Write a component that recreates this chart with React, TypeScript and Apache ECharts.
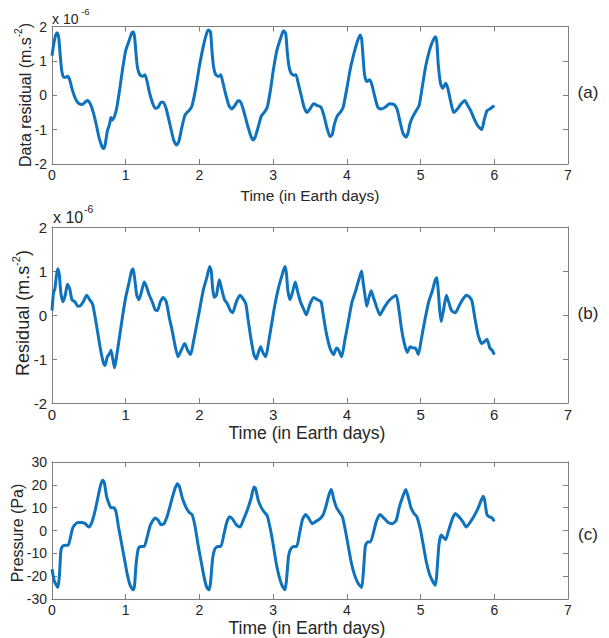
import React, { useEffect, useRef } from "react";
import * as echarts from "echarts";

// ---- Data (time in Earth days) ----
// Panel (a): data residual, units of 1e-6 m.s^-2
const seriesA: [number, number][] = [
  [0, 1.15], [0.02, 1.45], [0.05, 1.75], [0.07, 1.82], [0.09, 1.7], [0.11, 1.2], [0.13, 0.75], [0.15, 0.55],
  [0.18, 0.52], [0.21, 0.55], [0.24, 0.45], [0.27, 0.2], [0.3, 0.0], [0.33, -0.15], [0.37, -0.25], [0.41, -0.27],
  [0.45, -0.2], [0.48, -0.15], [0.52, -0.25], [0.56, -0.5], [0.6, -0.85], [0.64, -1.25], [0.68, -1.5], [0.7, -1.55],
  [0.72, -1.45], [0.75, -1.05], [0.78, -0.85], [0.8, -0.65], [0.82, -0.72], [0.85, -0.6], [0.88, -0.35], [0.92, 0.2],
  [0.96, 0.8], [1.0, 1.3], [1.04, 1.55], [1.08, 1.8], [1.1, 1.85], [1.12, 1.7], [1.14, 1.2], [1.16, 0.8],
  [1.19, 0.6], [1.23, 0.55], [1.26, 0.6], [1.29, 0.4], [1.32, 0.1], [1.36, -0.2], [1.4, -0.38], [1.44, -0.35],
  [1.48, -0.2], [1.51, -0.2], [1.55, -0.4], [1.6, -0.85], [1.65, -1.3], [1.69, -1.45], [1.72, -1.35], [1.76, -0.95],
  [1.8, -0.6], [1.83, -0.5], [1.86, -0.45], [1.9, -0.3], [1.95, 0.2], [2.0, 0.85], [2.05, 1.4], [2.09, 1.75],
  [2.12, 1.9], [2.15, 1.85], [2.17, 1.3], [2.19, 0.85], [2.22, 0.6], [2.26, 0.55], [2.29, 0.6], [2.32, 0.35],
  [2.36, 0.0], [2.4, -0.3], [2.44, -0.4], [2.48, -0.3], [2.53, -0.15], [2.56, -0.2], [2.6, -0.45], [2.65, -0.85],
  [2.7, -1.2], [2.73, -1.3], [2.76, -1.2], [2.8, -0.9], [2.84, -0.6], [2.88, -0.5], [2.92, -0.35], [2.96, 0.1],
  [3.0, 0.7], [3.05, 1.3], [3.1, 1.65], [3.14, 1.88], [3.17, 1.8], [3.19, 1.3], [3.21, 0.9], [3.24, 0.65],
  [3.28, 0.58], [3.31, 0.6], [3.34, 0.35], [3.38, 0.0], [3.42, -0.35], [3.46, -0.5], [3.5, -0.4], [3.55, -0.25],
  [3.6, -0.3], [3.65, -0.35], [3.69, -0.6], [3.73, -0.95], [3.77, -1.2], [3.8, -1.15], [3.83, -0.85], [3.87, -0.6],
  [3.91, -0.5], [3.95, -0.35], [4.0, 0.2], [4.05, 0.8], [4.1, 1.25], [4.14, 1.55], [4.18, 1.75], [4.2, 1.65],
  [4.22, 1.1], [4.24, 0.6], [4.27, 0.4], [4.31, 0.45], [4.34, 0.3], [4.38, -0.05], [4.42, -0.35], [4.46, -0.4],
  [4.52, -0.35], [4.58, -0.25], [4.64, -0.27], [4.68, -0.4], [4.72, -0.75], [4.76, -1.1], [4.8, -1.22], [4.83, -1.1],
  [4.86, -0.8], [4.9, -0.6], [4.94, -0.45], [4.98, -0.3], [5.02, 0.2], [5.07, 0.85], [5.12, 1.3], [5.16, 1.55],
  [5.2, 1.7], [5.22, 1.55], [5.24, 0.9], [5.27, 0.35], [5.3, 0.2], [5.34, 0.35], [5.37, 0.2], [5.41, -0.2],
  [5.45, -0.5], [5.5, -0.4], [5.55, -0.25], [5.6, -0.15], [5.64, -0.3], [5.68, -0.45], [5.73, -0.7], [5.78, -0.9],
  [5.83, -1.0], [5.86, -0.75], [5.9, -0.45], [5.94, -0.4], [5.97, -0.35], [6.0, -0.3],
];

// Panel (b): residual, units of 1e-6 m.s^-2
const seriesB: [number, number][] = [
  [0, 0.1], [0.02, 0.5], [0.04, 0.6], [0.06, 0.9], [0.08, 1.05], [0.1, 0.9], [0.12, 0.5], [0.15, 0.3],
  [0.18, 0.45], [0.21, 0.7], [0.24, 0.6], [0.27, 0.35], [0.31, 0.3], [0.35, 0.2], [0.39, 0.22], [0.43, 0.32],
  [0.47, 0.45], [0.51, 0.35], [0.55, 0.25], [0.58, 0.0], [0.62, -0.4], [0.66, -0.8], [0.7, -1.1], [0.72, -1.15],
  [0.75, -0.95], [0.78, -0.88], [0.8, -0.8], [0.83, -1.05], [0.85, -1.2], [0.88, -0.9], [0.92, -0.45], [0.96, 0.0],
  [1.0, 0.4], [1.04, 0.7], [1.08, 1.0], [1.1, 1.05], [1.12, 0.85], [1.15, 0.45], [1.18, 0.35], [1.21, 0.5],
  [1.25, 0.75], [1.28, 0.65], [1.32, 0.45], [1.36, 0.3], [1.4, 0.12], [1.43, 0.1], [1.47, 0.3], [1.51, 0.4],
  [1.55, 0.3], [1.59, -0.05], [1.63, -0.35], [1.67, -0.7], [1.71, -0.95], [1.74, -0.85], [1.78, -0.7], [1.8, -0.65],
  [1.84, -0.8], [1.88, -0.9], [1.92, -0.6], [1.96, -0.25], [2.0, 0.1], [2.05, 0.55], [2.1, 0.85], [2.14, 1.1],
  [2.16, 1.0], [2.18, 0.6], [2.2, 0.4], [2.23, 0.45], [2.27, 0.8], [2.3, 0.6], [2.34, 0.35], [2.38, 0.25],
  [2.42, 0.1], [2.45, 0.05], [2.5, 0.3], [2.55, 0.45], [2.6, 0.35], [2.63, 0.25], [2.66, -0.1], [2.7, -0.55],
  [2.74, -0.9], [2.77, -1.0], [2.8, -0.85], [2.83, -0.72], [2.86, -0.85], [2.9, -0.95], [2.94, -0.6], [2.98, -0.2],
  [3.02, 0.2], [3.07, 0.6], [3.12, 0.9], [3.16, 1.1], [3.18, 0.95], [3.2, 0.55], [3.23, 0.35], [3.26, 0.5],
  [3.3, 0.75], [3.33, 0.55], [3.37, 0.3], [3.41, 0.15], [3.45, 0.0], [3.5, 0.25], [3.55, 0.4], [3.6, 0.35],
  [3.65, 0.3], [3.68, 0.0], [3.72, -0.4], [3.77, -0.75], [3.82, -0.9], [3.86, -0.75], [3.89, -0.8], [3.93, -0.95],
  [3.97, -0.6], [4.02, -0.15], [4.07, 0.3], [4.12, 0.55], [4.17, 0.85], [4.2, 1.0], [4.22, 0.75], [4.25, 0.4],
  [4.27, 0.2], [4.3, 0.4], [4.33, 0.55], [4.36, 0.4], [4.4, 0.2], [4.45, 0.0], [4.5, 0.15], [4.56, 0.3],
  [4.62, 0.4], [4.67, 0.45], [4.7, 0.2], [4.74, -0.3], [4.78, -0.65], [4.82, -0.85], [4.86, -0.72], [4.9, -0.75],
  [4.93, -0.75], [4.97, -0.9], [5.01, -0.55], [5.06, -0.1], [5.11, 0.3], [5.16, 0.55], [5.2, 0.8], [5.22, 0.85],
  [5.24, 0.55], [5.26, 0.1], [5.28, -0.15], [5.31, 0.1], [5.35, 0.45], [5.38, 0.3], [5.42, 0.1], [5.47, 0.05],
  [5.52, 0.2], [5.57, 0.35], [5.62, 0.45], [5.67, 0.4], [5.7, 0.3], [5.74, -0.1], [5.78, -0.45], [5.83, -0.65],
  [5.87, -0.6], [5.9, -0.55], [5.94, -0.75], [5.97, -0.8], [6.0, -0.9],
];

// Panel (c): pressure, Pa
const seriesC: [number, number][] = [
  [0, -17], [0.03, -22], [0.06, -24], [0.08, -25], [0.1, -20], [0.12, -9], [0.14, -7], [0.18, -6.5],
  [0.22, -6.5], [0.25, -3], [0.28, 1], [0.31, 2.5], [0.35, 3.5], [0.4, 3.5], [0.45, 3], [0.5, 1.5],
  [0.54, 3.5], [0.58, 8], [0.62, 14], [0.66, 20], [0.69, 22], [0.71, 21], [0.74, 15], [0.77, 12],
  [0.8, 10], [0.84, 10], [0.87, 8], [0.9, 2], [0.94, -5], [0.98, -12], [1.02, -19], [1.06, -24],
  [1.1, -26], [1.12, -24], [1.14, -15], [1.17, -8], [1.2, -7], [1.25, -7], [1.29, -3], [1.33, 2],
  [1.37, 4.5], [1.4, 5.5], [1.44, 4.5], [1.48, 2.5], [1.52, 3], [1.57, 7], [1.62, 13], [1.67, 18.5],
  [1.7, 20.5], [1.73, 19], [1.77, 14], [1.82, 10], [1.86, 8], [1.9, 7], [1.94, 2], [1.98, -6],
  [2.02, -13], [2.06, -20], [2.1, -25], [2.13, -26], [2.15, -23], [2.18, -12], [2.21, -8], [2.25, -7],
  [2.29, -7], [2.33, -2], [2.37, 3.5], [2.41, 6], [2.45, 5], [2.5, 2.5], [2.55, 1.5], [2.6, 5],
  [2.65, 9], [2.7, 14], [2.74, 19], [2.76, 18.5], [2.8, 13], [2.84, 10], [2.88, 8], [2.92, 6.5],
  [2.96, 1], [3.0, -6], [3.04, -14], [3.08, -20], [3.12, -24], [3.16, -26], [3.18, -22], [3.21, -11],
  [3.24, -8], [3.28, -7], [3.32, -7], [3.36, -1], [3.4, 5], [3.44, 7], [3.48, 5.5], [3.53, 3],
  [3.58, 4], [3.63, 5], [3.68, 7], [3.72, 11], [3.76, 16], [3.79, 18], [3.82, 14], [3.86, 10],
  [3.9, 8], [3.94, 6], [3.98, 0], [4.02, -7], [4.06, -14], [4.1, -19], [4.15, -23], [4.2, -25],
  [4.22, -20], [4.25, -7], [4.28, -5], [4.32, -5], [4.36, -1], [4.4, 4], [4.45, 7], [4.5, 5.5],
  [4.56, 3.5], [4.62, 3], [4.67, 4.5], [4.71, 10], [4.76, 15], [4.8, 18], [4.83, 15], [4.87, 10],
  [4.91, 7.5], [4.95, 6], [5.0, 0], [5.04, -7], [5.08, -14], [5.12, -19], [5.16, -22], [5.2, -24],
  [5.22, -19], [5.25, -6], [5.28, -2], [5.31, -3], [5.34, -4], [5.38, 0], [5.43, 5], [5.47, 7.5],
  [5.52, 6], [5.57, 4], [5.62, 1.5], [5.67, 3.5], [5.72, 6], [5.77, 9], [5.82, 13], [5.85, 15],
  [5.87, 13], [5.9, 7], [5.93, 6], [5.97, 5.5], [6.0, 4],
];

// Axis ranges
const xRange = { min: 0, max: 7, interval: 1 };
const yRanges = [
  { min: -2, max: 2, interval: 1 },
  { min: -2, max: 2, interval: 1 },
  { min: -30, max: 30, interval: 10 },
];

const FONT = '"Liberation Sans", Arial, Helvetica, sans-serif';
const AXIS_COLOR = "#7f7f7f";
const TEXT_COLOR = "#262626";
const LINE_COLOR = "#0f72bd";

const grids = [
  { left: 52, top: 26.5, width: 516, height: 137.5 },
  { left: 52, top: 227, width: 516, height: 176 },
  { left: 52, top: 462, width: 516, height: 137 },
];
const tickFont = [14, 15, 14];

export default function App() {
  const ref = useRef<HTMLDivElement>(null);

  useEffect(() => {
    if (!ref.current) return;
    const chart = echarts.init(ref.current, undefined, { renderer: "svg" });

    const xAxis: any[] = [];
    const yAxis: any[] = [];
    grids.forEach((_, i) => {
      const common = {
        gridIndex: i,
        type: "value",
        axisLine: { show: true, onZero: false, lineStyle: { color: AXIS_COLOR, width: 1 } },
        axisTick: { show: true, inside: true, length: 5, lineStyle: { color: AXIS_COLOR, width: 1 } },
        splitLine: { show: false },
      };
      xAxis.push({
        ...common,
        ...xRange,
        position: "bottom",
        axisLabel: {
          show: true, fontSize: tickFont[i], color: TEXT_COLOR, fontFamily: FONT,
          margin: 4, lineHeight: 14,
        },
      });
      xAxis.push({ ...common, ...xRange, position: "top", axisLabel: { show: false } });
      yAxis.push({
        ...common,
        ...yRanges[i],
        position: "left",
        axisLabel: { show: true, fontSize: tickFont[i], color: TEXT_COLOR, fontFamily: FONT, margin: 5 },
      });
      yAxis.push({ ...common, ...yRanges[i], position: "right", axisLabel: { show: false } });
    });

    const data = [seriesA, seriesB, seriesC];
    const series = data.map((d, i) => ({
      type: "line",
      xAxisIndex: i * 2,
      yAxisIndex: i * 2,
      data: d,
      showSymbol: false,
      symbol: "none",
      smooth: 0.2,
      lineStyle: { color: LINE_COLOR, width: 3 },
      silent: true,
    }));

    const supRich = (size: number) => ({
      a: { fontSize: size, lineHeight: size + 4, verticalAlign: "bottom", fontFamily: FONT, fill: TEXT_COLOR, color: TEXT_COLOR },
      b: { fontSize: Math.round(size * 0.62), lineHeight: Math.round(size * 0.75), verticalAlign: "top", fontFamily: FONT, fill: TEXT_COLOR, color: TEXT_COLOR },
    });

    const txt = (x: number, y: number, text: string, size: number, extra: any = {}) => ({
      type: "text",
      x,
      y,
      silent: true,
      style: { text, fontSize: size, fontFamily: FONT, fill: TEXT_COLOR, align: "center", verticalAlign: "middle", ...extra },
    });

    const graphic: any[] = [
      // x10^-6 multipliers
      txt(52, 18.5, "x 10", 14, { align: "left" }),
      txt(81, 11, "-6", 9.5, { align: "left" }),
      txt(53, 217.5, "x 10", 16, { align: "left" }),
      txt(84, 209, "-6", 10.5, { align: "left" }),
      // y axis titles
      {
        type: "text", x: 23, y: 95, rotation: Math.PI / 2, silent: true,
        style: { text: "{a|Data residual (m.s}{b|-2}{a|)}", rich: supRich(16), align: "center", verticalAlign: "middle", fill: TEXT_COLOR, fontFamily: FONT },
      },
      {
        type: "text", x: 21, y: 313, rotation: Math.PI / 2, silent: true,
        style: { text: "{a|Residual (m.s}{b|-2}{a|)}", rich: supRich(18), align: "center", verticalAlign: "middle", fill: TEXT_COLOR, fontFamily: FONT },
      },
      { ...txt(17, 533, "Pressure (Pa)", 16), rotation: Math.PI / 2 },
      // x axis titles
      txt(310, 195, "Time (in Earth days)", 15.5),
      txt(307, 432.5, "Time (in Earth days)", 17.5),
      txt(307, 628, "Time (in Earth days)", 17.5),
      // panel labels
      txt(588, 92, "(a)", 17),
      txt(588, 313, "(b)", 17),
      txt(588, 534, "(c)", 17),
    ];

    chart.setOption({
      animation: false,
      backgroundColor: "#ffffff",
      grid: grids.map((g) => ({ ...g, containLabel: false })),
      xAxis,
      yAxis,
      series,
      graphic,
    });

    return () => chart.dispose();
  }, []);

  return (
    <div
      ref={ref}
      style={{ position: "absolute", left: 0, top: 0, width: 609, height: 638 }}
    />
  );
}
